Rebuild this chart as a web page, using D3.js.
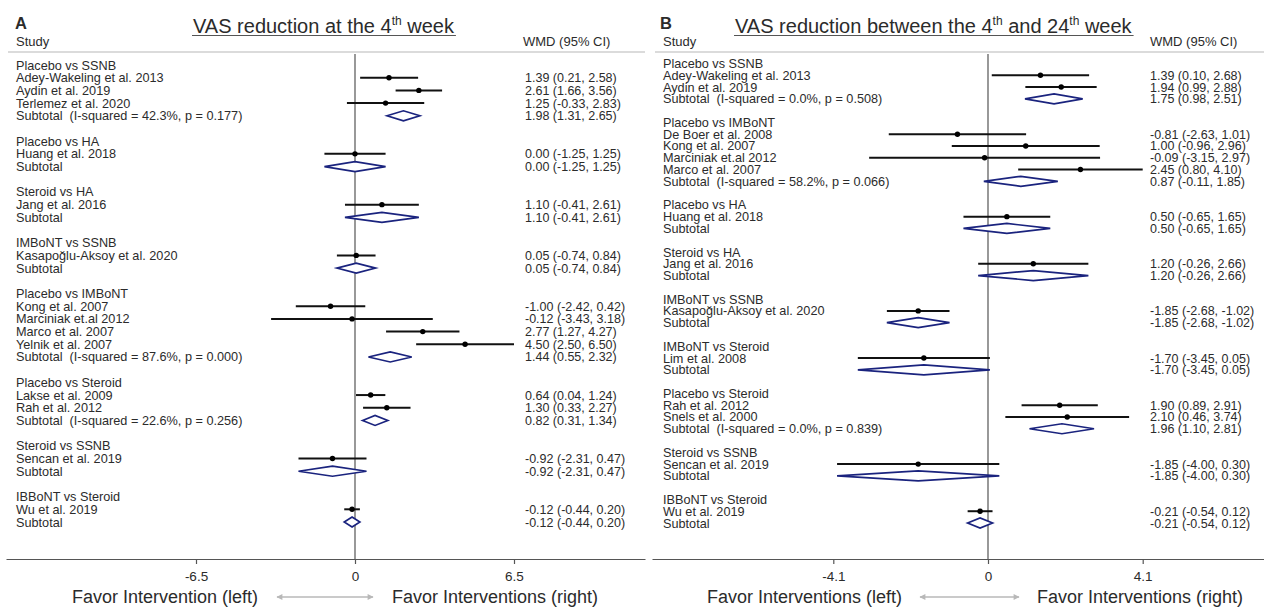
<!DOCTYPE html>
<html><head><meta charset="utf-8">
<script src="https://cdn.jsdelivr.net/npm/d3@7"></script>
<style>
body{margin:0;background:#fff}
svg{display:block}
text{font-family:"Liberation Sans",Arial,sans-serif;fill:#2b2b2b;white-space:pre}
</style>
</head><body>
<svg id="c" width="1264" height="608"></svg>
<script>
// ---------------- DATA ----------------
// Panel A: VAS reduction at the 4th week
const labelsA = [
  "Placebo vs SSNB","Adey-Wakeling et al. 2013","Aydin et al. 2019","Terlemez et al. 2020","Subtotal  (I-squared = 42.3%, p = 0.177)","",
  "Placebo vs HA","Huang et al. 2018","Subtotal","",
  "Steroid vs HA","Jang et al. 2016","Subtotal","",
  "IMBoNT vs SSNB","Kasapoğlu-Aksoy et al. 2020","Subtotal","",
  "Placebo vs IMBoNT","Kong et al. 2007","Marciniak et.al 2012","Marco et al. 2007","Yelnik et al. 2007","Subtotal  (I-squared = 87.6%, p = 0.000)","",
  "Placebo vs Steroid","Lakse et al. 2009","Rah et al. 2012","Subtotal  (I-squared = 22.6%, p = 0.256)","",
  "Steroid vs SSNB","Sencan et al. 2019","Subtotal","",
  "IBBoNT vs Steroid","Wu et al. 2019","Subtotal"
];
const typesA = ["h","s","s","s","d","", "h","s","d","", "h","s","d","", "h","s","d","", "h","s","s","s","s","d","", "h","s","s","d","", "h","s","d","", "h","s","d"];
const estA = [null,1.39,2.61,1.25,1.98,null, null,0.00,0.00,null, null,1.10,1.10,null, null,0.05,0.05,null, null,-1.00,-0.12,2.77,4.50,1.44,null, null,0.64,1.30,0.82,null, null,-0.92,-0.92,null, null,-0.12,-0.12];
const loA  = [null,0.21,1.66,-0.33,1.31,null, null,-1.25,-1.25,null, null,-0.41,-0.41,null, null,-0.74,-0.74,null, null,-2.42,-3.43,1.27,2.50,0.55,null, null,0.04,0.33,0.31,null, null,-2.31,-2.31,null, null,-0.44,-0.44];
const hiA  = [null,2.58,3.56,2.83,2.65,null, null,1.25,1.25,null, null,2.61,2.61,null, null,0.84,0.84,null, null,0.42,3.18,4.27,6.50,2.32,null, null,1.24,2.27,1.34,null, null,0.47,0.47,null, null,0.20,0.20];
const ticksA = [-6.5, 0, 6.5];

// Panel B: VAS reduction between the 4th and 24th week
const labelsB = [
  "Placebo vs SSNB","Adey-Wakeling et al. 2013","Aydin et al. 2019","Subtotal  (I-squared = 0.0%, p = 0.508)","",
  "Placebo vs IMBoNT","De Boer et al. 2008","Kong et al. 2007","Marciniak et.al 2012","Marco et al. 2007","Subtotal  (I-squared = 58.2%, p = 0.066)","",
  "Placebo vs HA","Huang et al. 2018","Subtotal","",
  "Steroid vs HA","Jang et al. 2016","Subtotal","",
  "IMBoNT vs SSNB","Kasapoğlu-Aksoy et al. 2020","Subtotal","",
  "IMBoNT vs Steroid","Lim et al. 2008","Subtotal","",
  "Placebo vs Steroid","Rah et al. 2012","Snels et al. 2000","Subtotal  (I-squared = 0.0%, p = 0.839)","",
  "Steroid vs SSNB","Sencan et al. 2019","Subtotal","",
  "IBBoNT vs Steroid","Wu et al. 2019","Subtotal"
];
const typesB = ["h","s","s","d","", "h","s","s","s","s","d","", "h","s","d","", "h","s","d","", "h","s","d","", "h","s","d","", "h","s","s","d","", "h","s","d","", "h","s","d"];
const estB = [null,1.39,1.94,1.75,null, null,-0.81,1.00,-0.09,2.45,0.87,null, null,0.50,0.50,null, null,1.20,1.20,null, null,-1.85,-1.85,null, null,-1.70,-1.70,null, null,1.90,2.10,1.96,null, null,-1.85,-1.85,null, null,-0.21,-0.21];
const loB  = [null,0.10,0.99,0.98,null, null,-2.63,-0.96,-3.15,0.80,-0.11,null, null,-0.65,-0.65,null, null,-0.26,-0.26,null, null,-2.68,-2.68,null, null,-3.45,-3.45,null, null,0.89,0.46,1.10,null, null,-4.00,-4.00,null, null,-0.54,-0.54];
const hiB  = [null,2.68,2.88,2.51,null, null,1.01,2.96,2.97,4.10,1.85,null, null,1.65,1.65,null, null,2.66,2.66,null, null,-1.02,-1.02,null, null,0.05,0.05,null, null,2.91,3.74,2.81,null, null,0.30,0.30,null, null,0.12,0.12];
const ticksB = [-4.1, 0, 4.1];

const titleA = [["VAS reduction at the 4",false],["th",true],[" week",false]];
const titleB = [["VAS reduction between the 4",false],["th",true],[" and 24",false],["th",true],[" week",false]];
const panelLetters = ["A","B"];
const colHeaders = ["Study","WMD (95% CI)"];
const favorA = ["Favor Intervention (left)","Favor Interventions (right)"];
const favorB = ["Favor Interventions (left)","Favor Interventions (right)"];

// ---------------- DRAW ----------------
const svg = d3.select("#c");
const defs = svg.append("defs");
defs.append("marker").attr("id","ah").attr("viewBox","0 0 10 10").attr("refX",9).attr("refY",5)
  .attr("markerWidth",5).attr("markerHeight",4).attr("orient","auto-start-reverse")
  .append("path").attr("d","M0,0L10,5L0,10z").attr("fill","#b8b8b8");

function panel(cfg){
  const g = svg.append("g");
  const x = d3.scaleLinear().domain([cfg.ticks[0], cfg.ticks[2]]).range(cfg.tickPx);
  const y = d3.scaleLinear().domain([0, cfg.labels.length-1]).range(cfg.rowPx);
  const axisTop = 559;

  // letter + title
  g.append("text").attr("x",cfg.letterX).attr("y",28.5).attr("font-size",16.5).attr("font-weight","bold").attr("fill","#111").text(cfg.letter);
  const t = g.append("text").attr("x",cfg.titleX).attr("y",33).attr("font-size",20).attr("fill","#222");
  cfg.title.forEach(([s,sup],i)=>{
    const ts = t.append("tspan").text(s);
    if(sup) ts.attr("font-size",12).attr("dy",-8);
    else if(i>0 && cfg.title[i-1][1]) ts.attr("dy",8);
  });
  const tb = t.node().getBBox();
  g.append("line").attr("x1",tb.x-1).attr("x2",tb.x+tb.width+1).attr("y1",35.5).attr("y2",35.5).attr("stroke","#555").attr("stroke-width",1.2);

  // column headers
  g.append("text").attr("x",cfg.textX).attr("y",46).attr("font-size",13).text(colHeaders[0]);
  g.append("text").attr("x",cfg.wmdHeadX).attr("y",46).attr("font-size",13).text(colHeaders[1]);
  // separator
  g.append("line").attr("x1",cfg.sepL).attr("x2",cfg.sepR).attr("y1",52).attr("y2",52).attr("stroke","#cfcfcf").attr("stroke-width",1.6);

  // zero line
  g.append("line").attr("x1",x(0)).attr("x2",x(0)).attr("y1",54).attr("y2",axisTop).attr("stroke","#444").attr("stroke-width",1.1);

  const idx = d3.range(cfg.labels.length);
  // labels
  g.selectAll("text.lab").data(idx.filter(i=>cfg.labels[i]!=="")).join("text").attr("class","lab")
    .attr("x",cfg.textX).attr("y",i=>y(i)+4.5).attr("font-size",12.7).text(i=>cfg.labels[i]);
  // WMD text
  const fmt = v=>v.toFixed(2);
  g.selectAll("text.wmd").data(idx.filter(i=>cfg.est[i]!==null)).join("text").attr("class","wmd")
    .attr("x",cfg.wmdX).attr("y",i=>y(i)+4.5).attr("font-size",12.5)
    .text(i=>`${fmt(cfg.est[i])} (${fmt(cfg.lo[i])}, ${fmt(cfg.hi[i])})`);
  // study CIs
  const studies = idx.filter(i=>cfg.types[i]==="s");
  g.selectAll("line.ci").data(studies).join("line").attr("class","ci")
    .attr("x1",i=>x(cfg.lo[i])).attr("x2",i=>x(cfg.hi[i])).attr("y1",i=>y(i)).attr("y2",i=>y(i))
    .attr("stroke","#111").attr("stroke-width",2);
  g.selectAll("circle.pt").data(studies).join("circle").attr("class","pt")
    .attr("cx",i=>x(cfg.est[i])).attr("cy",i=>y(i)).attr("r",2.7).attr("fill","#000");
  // diamonds
  const subs = idx.filter(i=>cfg.types[i]==="d");
  g.selectAll("path.dia").data(subs).join("path").attr("class","dia")
    .attr("d",i=>{const yy=y(i),h=5;return `M${x(cfg.lo[i])},${yy}L${x(cfg.est[i])},${yy-h}L${x(cfg.hi[i])},${yy}L${x(cfg.est[i])},${yy+h}Z`;})
    .attr("fill","#fff").attr("stroke","#1a237e").attr("stroke-width",1.7).attr("stroke-linejoin","miter");

  // axis
  const xa = x.copy().domain([x.invert(cfg.axisL), x.invert(cfg.axisR)]).range([cfg.axisL, cfg.axisR]);
  const ax = g.append("g").attr("transform",`translate(0,${axisTop})`)
    .call(d3.axisBottom(xa).tickValues(cfg.ticks).tickSize(5).tickSizeOuter(0).tickFormat(d=>String(d)));
  ax.select(".domain").attr("stroke","#555").attr("stroke-width",1.2);
  ax.selectAll(".tick line").attr("stroke","#555").attr("stroke-width",1.2);
  ax.selectAll(".tick text").attr("font-size",13.5).attr("y",12).attr("fill","#2b2b2b")
    .attr("font-family",'"Liberation Sans",Arial,sans-serif');

  // favor labels and arrow
  g.append("text").attr("x",cfg.arrow[0]-cfg.arrowGap).attr("y",603).attr("font-size",18).attr("text-anchor","end").text(cfg.favor[0]);
  g.append("text").attr("x",cfg.arrow[1]+cfg.arrowGap).attr("y",603).attr("font-size",18).attr("text-anchor","start").text(cfg.favor[1]);
  g.append("line").attr("x1",cfg.arrow[0]).attr("x2",cfg.arrow[1]).attr("y1",597).attr("y2",597)
    .attr("stroke","#b8b8b8").attr("stroke-width",1.5).attr("marker-start","url(#ah)").attr("marker-end","url(#ah)");
}

panel({labels:labelsA,types:typesA,est:estA,lo:loA,hi:hiA,ticks:ticksA,tickPx:[196,514],rowPx:[65,522],
  letter:panelLetters[0],letterX:15,title:titleA,titleX:193,textX:16,wmdX:525,wmdHeadX:523,sepL:8,sepR:645,
  axisL:6,axisR:645,arrow:[277,373],arrowGap:19,favor:favorA});
panel({labels:labelsB,types:typesB,est:estB,lo:loB,hi:hiB,ticks:ticksB,tickPx:[833.3,1142.7],rowPx:[63.5,523],
  letter:panelLetters[1],letterX:660,title:titleB,titleX:735,textX:663,wmdX:1150,wmdHeadX:1150,sepL:655,sepR:1264,
  axisL:652,axisR:1264,arrow:[920,1019],arrowGap:18,favor:favorB});
</script>
</body></html>
